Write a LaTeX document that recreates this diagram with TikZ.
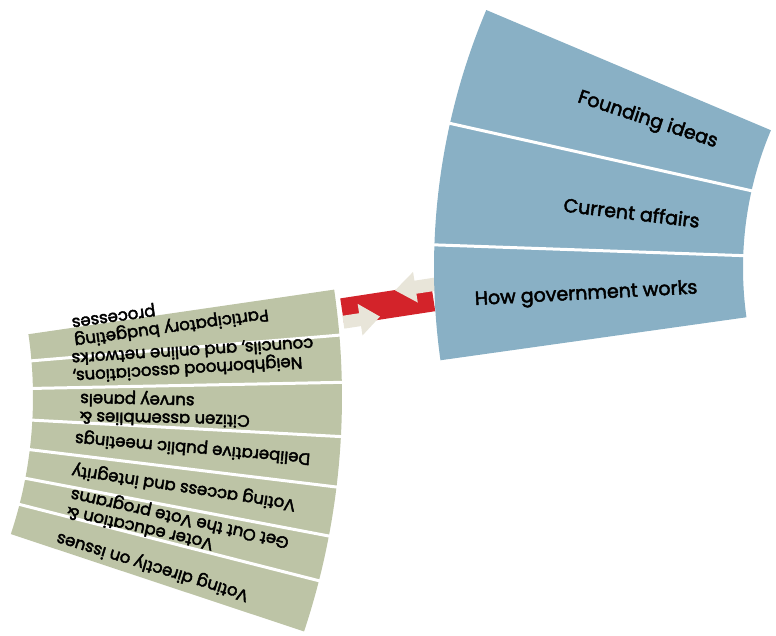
\documentclass[tikz,border=0pt]{standalone}
\usepackage{fontspec}
\setmainfont{Poppins}[FakeBold=2.5]
\usetikzlibrary{calc}
\definecolor{fanblue}{RGB}{137,176,197}
\definecolor{fangreen}{RGB}{189,196,166}
\definecolor{barred}{RGB}{211,35,42}
\definecolor{arrowcream}{RGB}{232,229,217}
% #1 fill colour, #2 centre, #3 start angle, #4 end angle, #5 inner r, #6 outer r
\newcommand\fanseg[6]{\fill[#1] (#2) ++(#3:#6) arc[start angle=#3,end angle=#4,radius=#6] -- ($(#2)+(#4:#5)$) arc[start angle=#4,end angle=#3,radius=#5] -- cycle;}
\begin{document}
\begin{tikzpicture}[x=1pt,y=1pt,
  bluetext/.style={inner sep=0pt, anchor=east, font=\fontsize{19}{22}\selectfont, text=black},
  greentext/.style={inner sep=0pt, anchor=east, align=right, font=\fontsize{16.5}{18}\selectfont, text=black},
  gapline/.style={draw=white, line width=3pt},
  creamarrow/.style={fill=arrowcream}]
\useasboundingbox (0,0) rectangle (776,635);
\coordinate (B) at (1097,367);
\coordinate (G) at (-402,238);

% green fan
\fanseg{fangreen}{G}{-18.37}{8.3}{435pt}{744pt}
\foreach \a in {4.77,1.13,-3.05,-6.95,-10.77,-14.3}
  \draw[gapline] ($(G)+(\a:432pt)$) -- ($(G)+(\a:747pt)$);

% red bar with two arrows
\node[fill=barred, minimum width=92pt, minimum height=27pt, inner sep=0pt, rotate=8.7] (bar) at (387.75,330.2) {};
\begin{scope}[shift={(bar.center)}, rotate=8.7]
  \fill[creamarrow] (-46.5,-4) -- (-29.6,-4) -- (-29.6,5.5) -- (-9.5,-10.5) -- (-29.6,-26.5) -- (-29.6,-17) -- (-46.5,-17) -- cycle;
  \fill[creamarrow] (51.5,19.8) -- (30,19.8) -- (30,28.7) -- (9.4,13.2) -- (30,-2.3) -- (30,6.6) -- (51.5,6.6) -- cycle;
\end{scope}

% blue fan
\fanseg{fanblue}{B}{157.1}{188.0}{354pt}{663pt}
\foreach \a in {167.4,178.0}
  \draw[gapline] ($(B)+(\a:351pt)$) -- ($(B)+(\a:666pt)$);

% blue texts
\node[bluetext, rotate=-18.2] (founding) at ($(B)+(161.8:400pt)$) {Founding ideas};
\node[bluetext, rotate=-6.8] (current) at ($(B)+(173.2:400pt)$) {Current affairs};
\node[bluetext, rotate=3.0] (howgov) at ($(B)+(183.0:400pt)$) {How government works};

% green texts
\node[greentext, rotate=187.85] (partic) at ($(G)+(7.85:479.5pt)$) {Participatory budgeting\\processes};
\node[greentext, rotate=183.56] (neigh) at ($(G)+(3.56:475pt)$) {Neighborhood associations,\\councils, and online networks};
\node[greentext, rotate=178.81] (citizen) at ($(G)+(-1.19:482pt)$) {Citizen assemblies \&\\survey panels};
\node[greentext, rotate=175.12] (delib) at ($(G)+(-4.88:478.7pt)$) {Deliberative public meetings};
\node[greentext, rotate=171.25] (access) at ($(G)+(-8.75:479.6pt)$) {Voting access and integrity};
\node[greentext, rotate=167.43] (voter) at ($(G)+(-12.57:482.6pt)$) {Voter education \&\\Get Out the Vote programs};
\node[greentext, rotate=163.04] (direct) at ($(G)+(-16.96:480pt)$) {Voting directly on issues};
\end{tikzpicture}
\end{document}
